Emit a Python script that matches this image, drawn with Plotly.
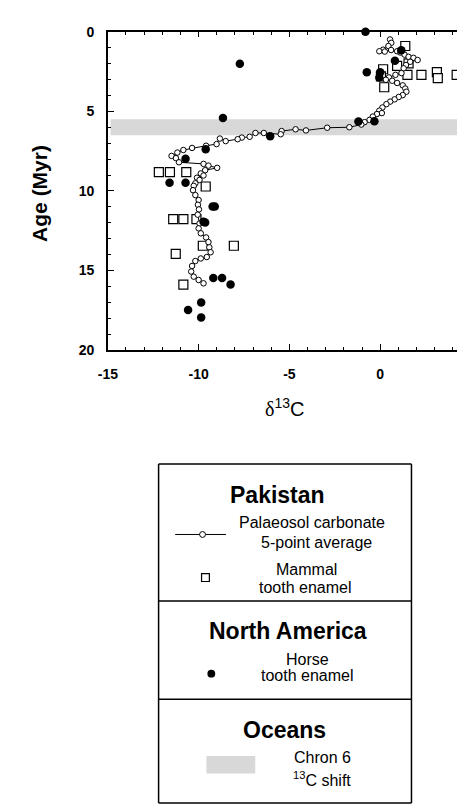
import plotly.graph_objects as go

W, H = 465, 804

# ---------------- data ----------------
# Pakistan: palaeosol carbonate, 5-point running average (d13C, age Myr)
paleosol_d13c = [0.54, 0.61, 0.45, 0.16, -0.05, 0.25, 0.60, 0.93, 1.11, 1.34, 1.56, 1.83, 2.06,
                 1.65, 1.42, 1.29, 1.17, 0.84, 0.48, 0.31, 0.66, 0.93, 1.24, 1.38, 1.44, 1.24,
                 1.02, 0.79, 0.55, 0.34, 0.12, -0.05, 0.09, -0.18, -0.41, -0.59, -0.86, -1.04,
                 -1.70, -2.92, -4.09, -4.66, -5.43, -5.48, -6.41, -6.87, -7.19, -7.62, -7.85,
                 -8.51, -8.83, -9.01, -9.59, -10.36, -10.84, -11.17, -11.49, -11.25, -11.08,
                 -9.73, -9.46, -8.98, -9.64, -9.88, -9.73, -10.09, -9.95, -10.18, -10.27, -10.31,
                 -10.18, -10.00, -10.04, -9.98, -10.05, -9.95, -10.00, -9.88, -9.59, -9.46,
                 -9.41, -9.34, -9.55, -9.88, -10.18, -10.36, -10.41, -10.27, -10.00, -9.73]
paleosol_age = [0.49, 0.70, 0.90, 1.13, 1.23, 1.25, 1.15, 1.23, 1.31, 1.44, 1.58, 1.64, 1.78,
                1.89, 2.09, 2.30, 2.60, 2.71, 2.87, 3.02, 3.08, 3.22, 3.37, 3.57, 3.77, 3.98,
                4.10, 4.25, 4.39, 4.55, 4.76, 4.96, 5.11, 5.17, 5.33, 5.54, 5.68, 5.83,
                6.00, 6.03, 6.20, 6.13, 6.24, 6.44, 6.36, 6.36, 6.60, 6.65, 6.75,
                6.87, 6.71, 7.06, 7.16, 7.30, 7.43, 7.59, 7.80, 7.94, 8.20,
                8.30, 8.41, 8.55, 8.70, 8.90, 9.03, 9.17, 9.31, 9.52, 9.68, 9.95,
                10.26, 10.57, 10.87, 11.16, 11.49, 12.04, 12.35, 12.66, 12.92, 13.21,
                13.54, 13.85, 14.15, 14.24, 14.40, 14.71, 15.06, 15.38, 15.59, 15.80]

# Pakistan: mammal tooth enamel
mammal_d13c = [1.38, 1.56, 0.16, 0.93, 1.50, 2.27, 3.12, 3.17, 4.21, 0.22, 0.04,
               -12.19, -11.58, -10.68, -9.61, -11.40, -10.84, -10.12, -9.77, -8.06, -11.26, -10.84]
mammal_age = [0.90, 1.99, 2.36, 2.15, 2.71, 2.71, 2.54, 2.91, 2.71, 3.49, 2.81,
              8.82, 8.82, 8.82, 9.72, 11.77, 11.77, 11.77, 13.44, 13.44, 13.95, 15.88]

# North America: horse tooth enamel
horse_d13c = [-0.81, -7.73, -0.74, 1.16, 0.81, 0.00, -0.05, -8.66, -1.20, -0.32, -6.06,
              -9.61, -10.72, -11.60, -10.72, -9.23, -9.11, -9.73, -9.64, -9.19, -8.71,
              -8.24, -9.86, -10.58, -9.86]
horse_age = [0.00, 2.01, 2.54, 1.17, 1.83, 2.54, 2.87, 5.42, 5.64, 5.62, 6.56,
             7.38, 7.98, 9.48, 9.48, 10.97, 10.97, 11.94, 11.98, 15.47, 15.47,
             15.88, 17.00, 17.48, 17.95]

# Oceans: Chron 6 13C shift (age band, Myr)
chron6_age = [5.5, 6.5]

x_ticks = [-15, -10, -5, 0, 5]
x_tick_labels = ["-15", "-10", "-5", "0", "5"]
y_ticks = [0, 5, 10, 15, 20]
y_tick_labels = ["0", "5", "10", "15", "20"]

# ---------------- helpers (pixel -> paper) ----------------
def px(x):
    return x / W

def py(y):
    return 1 - y / H

FONT = "Liberation Sans, Arial, Helvetica, sans-serif"
BAND = "#d8d8d8"

fig = go.Figure()

# Chron 6 band
fig.add_trace(go.Scatter(
    x=[-14.85, 5, 5, -14.85, -14.85],
    y=[chron6_age[0], chron6_age[0], chron6_age[1], chron6_age[1], chron6_age[0]],
    fill="toself", mode="none", fillcolor=BAND, hoverinfo="skip", showlegend=False))

fig.add_trace(go.Scatter(
    x=mammal_d13c, y=mammal_age, mode="markers", showlegend=False, cliponaxis=False,
    marker=dict(symbol="square", size=9, color="white", line=dict(color="black", width=1.2))))

fig.add_trace(go.Scatter(
    x=paleosol_d13c, y=paleosol_age, mode="lines+markers", showlegend=False, cliponaxis=False,
    line=dict(color="black", width=1),
    marker=dict(symbol="circle", size=5.5, color="white", line=dict(color="black", width=1))))

fig.add_trace(go.Scatter(
    x=horse_d13c, y=horse_age, mode="markers", showlegend=False, cliponaxis=False,
    marker=dict(symbol="circle", size=8.5, color="black", line=dict(color="black", width=0))))

axis_common = dict(
    showline=True, linecolor="black", linewidth=1.5, mirror="ticks",
    ticks="inside", ticklen=6, tickwidth=1.2, tickcolor="black",
    showgrid=False, zeroline=False,
    tickfont=dict(family=FONT, size=14, color="black", weight="bold"),
    minor=dict(dtick=1, ticks="inside", ticklen=3.5, tickwidth=1, tickcolor="black", showgrid=False),
)

fig.update_layout(
    width=W, height=H,
    margin=dict(l=0, r=0, t=0, b=0),
    paper_bgcolor="white", plot_bgcolor="white",
    showlegend=False,
    xaxis=dict(domain=[px(92), px(464)], range=[-15, 5],
               tickmode="array", tickvals=x_ticks, ticktext=x_tick_labels,
               ticklabelstandoff=10, **axis_common),
    yaxis=dict(domain=[py(341), py(16)], range=[20, 0],
               tickmode="array", tickvals=y_ticks, ticktext=y_tick_labels,
               ticklabelstandoff=9, **axis_common),
)

ann = []
# axis titles
ann.append(dict(x=px(22), y=py(181), xref="paper", yref="paper", text="Age (Myr)",
                textangle=-90, showarrow=False, xanchor="center", yanchor="middle",
                font=dict(family=FONT, size=21, color="black", weight="bold")))
ann.append(dict(x=px(273), y=py(399), xref="paper", yref="paper",
                text="<span style='font-family:Liberation Serif'>δ</span><sup>13</sup>C",
                showarrow=False, xanchor="center", yanchor="middle",
                font=dict(family=FONT, size=20, color="black")))

# legend box texts
def t(x, y, text, size, bold=False):
    ann.append(dict(x=px(x), y=py(y), xref="paper", yref="paper", text=text,
                    showarrow=False, xanchor="center", yanchor="middle",
                    font=dict(family=FONT, size=size, color="black",
                              weight="bold" if bold else "normal")))

t(266, 489, "Pakistan", 23, True)
t(301, 517, "Palaeosol carbonate", 16)
t(306, 537, "5-point average", 16)
t(296, 565, "Mammal", 16)
t(294, 583, "tooth enamel", 16)
t(277, 627, "North America", 23, True)
t(297, 657, "Horse", 16)
t(297, 673, "tooth enamel", 16)
t(273, 729, "Oceans", 23, True)
t(312, 757, "Chron 6", 16)
t(311, 778, "<sup>13</sup>C shift", 16)
fig.update_layout(annotations=ann)

shapes = []
def line(x0, y0, x1, y1, w=1.5):
    shapes.append(dict(type="line", xref="paper", yref="paper",
                       x0=px(x0), y0=py(y0), x1=px(x1), y1=py(y1),
                       line=dict(color="black", width=w)))

# box
line(144, 457, 403, 457)
line(144, 457, 144, 803)
line(403, 457, 403, 803)
line(144, 803, 403, 803)
line(144, 597, 403, 597)
line(144, 697, 403, 697)
# palaeosol symbol
line(161, 529, 213, 529, 1)
shapes.append(dict(type="circle", xref="paper", yref="paper",
                   x0=px(186), x1=px(192), y0=py(532), y1=py(526),
                   fillcolor="white", line=dict(color="black", width=1)))
# mammal square
shapes.append(dict(type="rect", xref="paper", yref="paper",
                   x0=px(188), x1=px(196), y0=py(577), y1=py(569),
                   fillcolor="white", line=dict(color="black", width=1.2)))
# horse dot
shapes.append(dict(type="circle", xref="paper", yref="paper",
                   x0=px(194), x1=px(202), y0=py(675), y1=py(667),
                   fillcolor="black", line=dict(color="black", width=0)))
# chron patch
shapes.append(dict(type="rect", xref="paper", yref="paper",
                   x0=px(193), x1=px(243), y0=py(773), y1=py(755),
                   fillcolor=BAND, line=dict(width=0)))
fig.update_layout(shapes=shapes)

fig.write_html("out.html")
